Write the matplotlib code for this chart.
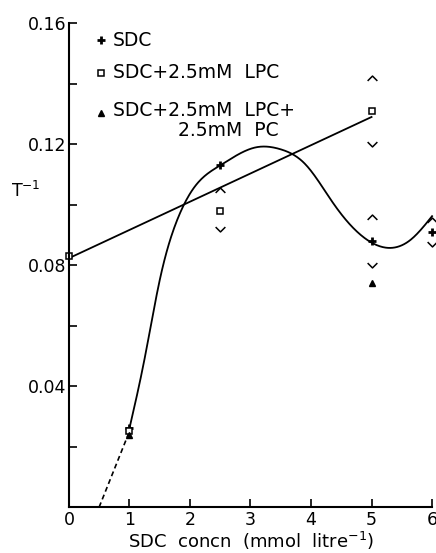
import numpy as np
import matplotlib.pyplot as plt
from matplotlib.path import Path

# data
sdc_x = [1, 2.5, 5, 6]
sdc_y = [0.026, 0.113, 0.088, 0.091]
lpc_x = [0, 1, 2.5, 5]
lpc_y = [0.083, 0.025, 0.098, 0.131]
pc_x = [1, 5]
pc_y = [0.024, 0.074]

# range markers (upper / lower limits)
up_x = [2.5, 5, 5, 6]
up_y = [0.105, 0.142, 0.096, 0.095]
down_x = [2.5, 5, 5, 6]
down_y = [0.092, 0.120, 0.080, 0.087]

# hand drawn curve through these points
curve_x = [1.0, 1.25, 1.5, 1.8, 2.1, 2.5, 3.1, 3.5, 3.9, 4.37, 4.98, 5.31, 5.64, 6.0]
curve_y = [0.026, 0.049, 0.075, 0.0955, 0.1065, 0.113, 0.1190, 0.1183, 0.1135, 0.1004, 0.0877, 0.0857,
           0.0883, 0.0962]
dash_x = [0.5, 1.0]
dash_y = [0.0, 0.025]

# straight line
line_x = [0.0, 5.0]
line_y = [0.0823, 0.129]


def natural_spline(x, y, n=400):
    x = np.asarray(x, float)
    y = np.asarray(y, float)
    k = len(x)
    h = np.diff(x)
    A = np.zeros((k, k))
    r = np.zeros(k)
    A[0, 0] = A[-1, -1] = 1
    for i in range(1, k - 1):
        A[i, i - 1] = h[i - 1]
        A[i, i] = 2 * (h[i - 1] + h[i])
        A[i, i + 1] = h[i]
        r[i] = 6 * ((y[i + 1] - y[i]) / h[i] - (y[i] - y[i - 1]) / h[i - 1])
    M = np.linalg.solve(A, r)
    xs = np.linspace(x[0], x[-1], n)
    idx = np.clip(np.searchsorted(x, xs) - 1, 0, k - 2)
    x0, x1, hh = x[idx], x[idx + 1], h[idx]
    ys = (M[idx] * (x1 - xs) ** 3 / (6 * hh) + M[idx + 1] * (xs - x0) ** 3 / (6 * hh)
          + (y[idx] / hh - M[idx] * hh / 6) * (x1 - xs)
          + (y[idx + 1] / hh - M[idx + 1] * hh / 6) * (xs - x0))
    return xs, ys


up_mark = Path([(-1, -0.5), (0, 0.5), (1, -0.5)], [Path.MOVETO, Path.LINETO, Path.LINETO])
down_mark = Path([(-1, 0.5), (0, -0.5), (1, 0.5)], [Path.MOVETO, Path.LINETO, Path.LINETO])

fig = plt.figure(figsize=(4.36, 5.53), dpi=100)
ax = fig.add_axes([0.158, 0.083, 0.833, 0.875])

cx, cy = natural_spline(curve_x, curve_y)
ax.plot(cx, cy, color='black', lw=1.3, clip_on=False)
ax.plot(dash_x, dash_y, color='black', lw=1.2, ls=(0, (3, 2)))
ax.plot(line_x, line_y, color='black', lw=1.3)

ax.plot(sdc_x, sdc_y, ls='none', marker='+', ms=6, mew=2, color='black', clip_on=False)
ax.plot(lpc_x, lpc_y, ls='none', marker='s', ms=4.5, mew=1.1, mfc='white', mec='black', clip_on=False)
ax.plot(pc_x, pc_y, ls='none', marker='^', ms=5, color='black', clip_on=False)
ax.plot(up_x, up_y, ls='none', marker=up_mark, ms=7, mew=1.1, mfc='none', mec='black', clip_on=False)
ax.plot(down_x, down_y, ls='none', marker=down_mark, ms=7, mew=1.1, mfc='none', mec='black', clip_on=False)

ax.set_xlim(0, 6)
ax.set_ylim(0, 0.16)
ax.set_xticks([0, 1, 2, 3, 4, 5, 6])
ax.set_yticks([0, 0.04, 0.08, 0.12, 0.16])
ax.set_yticklabels(['', '0.04', '0.08', '0.12', '0.16'])
ax.set_yticks([0.02, 0.06, 0.10, 0.14], minor=True)
ax.tick_params(direction='in', length=6, width=1.2, labelsize=12.5)
ax.tick_params(which='minor', direction='in', length=6, width=1.2)
ax.tick_params(axis='x', pad=3)
ax.tick_params(axis='y', pad=2)
for s in ['top', 'right']:
    ax.spines[s].set_visible(False)
for s in ['left', 'bottom']:
    ax.spines[s].set_linewidth(1.5)

fig.text(251 / 436, 1 - 541 / 553, 'SDC  concn  (mmol  litre$^{-1}$)', fontsize=13, ha='center', va='center')
fig.text(0.025, 0.655, 'T$^{-1}$', fontsize=12.5, ha='left', va='center')

# legend drawn by hand
lx, tx = 101 / 436, 113 / 436
rows = [(40, '+', 'SDC'), (73, 's', 'SDC+2.5mM  LPC'), (111, '^', 'SDC+2.5mM  LPC+')]
for py, mk, label in rows:
    y = 1 - py / 553
    if mk == '+':
        fig.lines.append(plt.Line2D([lx], [y], marker='+', ms=6, mew=2, color='black', transform=fig.transFigure))
    elif mk == 's':
        fig.lines.append(plt.Line2D([lx], [y], marker='s', ms=4.5, mew=1.1, mfc='white', mec='black', transform=fig.transFigure))
    else:
        fig.lines.append(plt.Line2D([lx], [y - 0.004], marker='^', ms=5, color='black', transform=fig.transFigure))
    fig.text(tx, y, label, fontsize=13.5, ha='left', va='center')
fig.text(178 / 436, 1 - 131 / 553, '2.5mM  PC', fontsize=13.5, ha='left', va='center')

fig.savefig('out.png', dpi=100)
